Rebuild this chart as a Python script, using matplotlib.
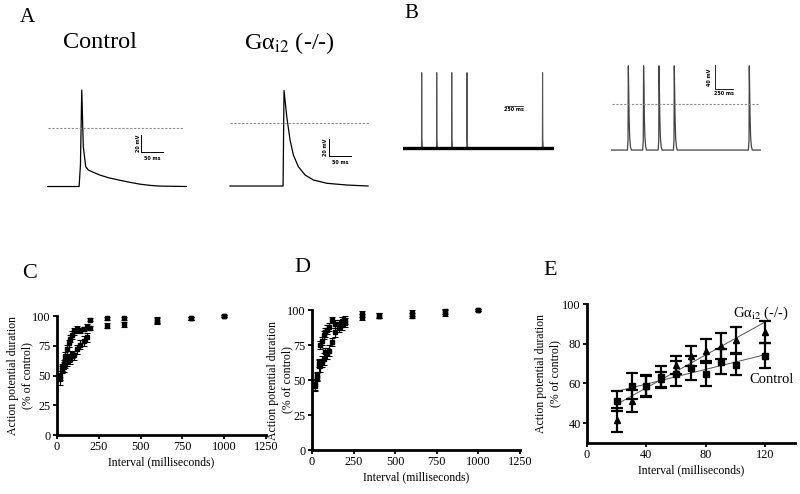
import matplotlib
matplotlib.use("Agg")
import matplotlib.pyplot as plt

plt.rcParams['font.family'] = ['Liberation Serif', 'DejaVu Serif']
plt.rcParams['mathtext.fontset'] = 'stix'

# ---- panel A: single action potentials (ms, mV) ----
ctrl_ap_t = [0, 73, 76, 79, 82.5, 88, 94, 105, 120, 140, 166, 190, 211, 235, 257, 318]
ctrl_ap_v = [-68.8, -68.8, -43.5, 44.7, -22, -45.5, -49.4, -52, -55.3, -58.5, -61.5, -64, -66, -67.5, -68.3, -68.8]
ko_ap_t = [0, 120.5, 122.7, 128.9, 136.4, 143.9, 155.2, 170.5, 189.3, 219.8, 265.2, 313.6]
ko_ap_v = [-76.3, -76.3, 38.8, 7.2, -20.8, -38.9, -53, -63, -69, -73, -75.1, -76.3]

# ---- panel B: spike trains (ms) ----
b1_spikes = [255, 460, 665, 873, 1904]
b1_dt = [-3, 0, 4, 10]
b1_v = [-70, 54, -55, -70]
b2_spikes = [232, 436, 643, 847, 1851]
b2_dt = [-12, -4, 0, 4, 10, 18, 28, 40]
b2_v = [-76, -60, 62, 30, -20, -55, -70, -76]

# ---- panels C and D: APD vs interval ----
interval = [20, 30, 40, 50, 60, 70, 80, 90, 100, 120, 140, 160, 180, 200, 300, 400, 600, 800, 1000]
c_upper = [47, 55, 60, 66, 72, 77, 81, 84, 87, 89, 88, 89, 91, 97, 98, 98, 96, 98, 100]
c_upper_err = [5, 3, 3, 4, 4, 3, 3, 3, 3, 3, 2, 2, 2, 1.5, 1.5, 1, 3, 1, 0.5]
c_lower = [50, 57, 57, 60, 62, 64, 64, 68, 67, 72, 76, 79, 82, 90, 92, 93, 96, 98, 100]
c_lower_err = [4, 3, 4, 4, 4, 3, 4, 3, 4, 4, 4, 4, 4, 2, 2, 2, 2, 1, 0.5]
d_upper = [47, 53, 62, 75, 78, 82, 84, 86, 88, 93, 90, 90, 92, 93, 97, 96, 98, 98, 100]
d_upper_err = [4, 3, 3, 3, 3, 3, 3, 3, 3, 2, 3, 3, 3, 3, 2, 2, 2, 2, 0.5]
d_lower = [46, 52, 60, 60, 63, 65, 70, 69, 71, 77, 84, 87, 89, 91, 95, 96, 96, 99, 100]
d_lower_err = [4, 3, 4, 4, 4, 4, 3, 4, 4, 3, 3, 3, 3, 3, 2, 2, 2, 2, 0.5]

# ---- panel E ----
e_interval = [20, 30, 40, 50, 60, 70, 80, 90, 100, 120]
e_control = [51, 58.7, 58.7, 63.3, 65, 67.8, 65, 71, 69.5, 74]
e_control_err = [5, 6.5, 5.5, 5.5, 6.5, 6, 6.5, 6.5, 5.5, 6.3]
e_ko = [41.5, 51.2, 58.7, 62, 69.5, 73.7, 76.2, 79, 82, 85.7]
e_ko_err = [6, 5.5, 5, 4, 4.5, 5, 6, 6.5, 6.5, 5.5]
fit_x = [20, 120]
fit_control = [56, 74.5]
fit_ko = [49.5, 91]

W, H = 800, 494
fig = plt.figure(figsize=(8, 4.94), dpi=100)


def px_axes(x0, y0, x1, y1):
    return fig.add_axes([x0 / W, 1 - y1 / H, (x1 - x0) / W, (y1 - y0) / H])


def px_text(x, y, s, **kw):
    fig.text(x / W, 1 - y / H, s, ha='center', va='center', **kw)


def spike_train(times, dt, v, t_end):
    t, y = [0], [v[0]]
    for s in times:
        t += [s + d for d in dt]
        y += v
    t.append(t_end)
    y.append(v[-1])
    return t, y


ko_label = 'Gα$_{\\mathrm{i2}}$ (-/-)'
dash = dict(color='#8a8a8a', lw=0.8, ls=(0, (2, 1.5)))
small = dict(fontsize=3.5, fontfamily='DejaVu Sans', fontweight='bold')

# A - control
ax = px_axes(47, 85, 187, 190)
ax.plot(ctrl_ap_t, ctrl_ap_v, color='k', lw=0.9)
ax.plot([2, 309], [0, 0], **dash)
ax.plot([214, 214, 264], [-8, -28, -28], color='k', lw=0.7)
ax.text(207, -18, '20 mV', rotation=90, ha='center', va='center', **small)
ax.text(239, -33, '50 ms', ha='center', va='top', **small)
ax.set_xlim(0, 318.2)
ax.set_ylim(-72.9, 50.6)
ax.axis('off')

# A - knockout
ax = px_axes(229, 85, 370, 190)
ax.plot(ko_ap_t, ko_ap_v, color='k', lw=0.9)
ax.plot([0, 318], [0, 0], **dash)
ax.plot([225, 225, 275], [-20, -40, -40], color='k', lw=0.7)
ax.text(218, -30, '20 mV', rotation=90, ha='center', va='center', **small)
ax.text(250, -45, '50 ms', ha='center', va='top', **small)
ax.set_xlim(-2.3, 318)
ax.set_ylim(-81.1, 45.4)
ax.axis('off')

# B - control train
ax = px_axes(403, 60, 554, 155)
t, v = spike_train(b1_spikes, b1_dt, b1_v, 2050)
ax.plot(t, v, color='#555555', lw=0.8)
ax.plot([0, 2050], [-70, -70], color='k', lw=2.4)
ax.plot([1391, 1641], [0, 0], color='k', lw=0.5)
ax.text(1516, -3, '250 ms', ha='center', va='top', **small)
ax.set_xlim(0, 2060)
ax.set_ylim(-81, 74.8)
ax.axis('off')

# B - knockout train
ax = px_axes(611, 60, 762, 155)
t, v = spike_train(b2_spikes, b2_dt, b2_v, 2000)
ax.plot(t, v, color='#444444', lw=0.9)
ax.plot([20, 1975], [0, 0], **dash)
ax.plot([1387, 1387, 1637], [63.6, 23.6, 23.6], color='k', lw=0.6)
ax.text(1320, 43.6, '40 mV', rotation=90, ha='center', va='center', **small)
ax.text(1512, 20, '250 ms', ha='center', va='top', **small)
ax.set_xlim(0, 2021)
ax.set_ylim(-84.1, 71.6)
ax.axis('off')

# panel letters and titles
px_text(27, 17, 'A', fontsize=15)
px_text(100, 42, 'Control', fontsize=17.5)
px_text(289, 43, ko_label, fontsize=17.5)
px_text(411, 14, 'B', fontsize=15)
px_text(30, 273, 'C', fontsize=16)
px_text(302, 268, 'D', fontsize=16)
px_text(550, 270, 'E', fontsize=16)


def style_axes(ax, label_x):
    for side in ['top', 'right']:
        ax.spines[side].set_visible(False)
    for side in ['left', 'bottom']:
        ax.spines[side].set_linewidth(2.0)
    ax.tick_params(direction='out', length=3, width=1.3, labelsize=8.8, pad=1.5)
    ax.set_xlabel('Interval (milliseconds)', fontsize=8.5, labelpad=2)
    ax.set_ylabel('Action potential duration\n(% of control)', fontsize=8.5)
    ax.yaxis.set_label_coords(label_x, 0.5)


ebar = dict(fmt='s', color='k', ms=2.6, elinewidth=0.8, capsize=2, capthick=0.8, lw=0)

# C
ax = px_axes(57, 316, 266, 435)
ax.errorbar(interval, c_upper, yerr=c_upper_err, **ebar)
ax.errorbar(interval, c_lower, yerr=c_lower_err, **ebar)
ax.set_xlim(0, 1250)
ax.set_ylim(0, 100)
ax.set_xticks([0, 250, 500, 750, 1000, 1250])
ax.set_yticks([0, 25, 50, 75, 100])
style_axes(ax, -0.115)
for art in ax.lines + ax.collections:
    art.set_clip_on(False)

# D
ax = px_axes(312, 310, 520, 450)
ax.errorbar(interval, d_upper, yerr=d_upper_err, **ebar)
ax.errorbar(interval, d_lower, yerr=d_lower_err, **ebar)
ax.set_xlim(0, 1250)
ax.set_ylim(0, 100)
ax.set_xticks([0, 250, 500, 750, 1000, 1250])
ax.set_yticks([0, 25, 50, 75, 100])
style_axes(ax, -0.09)
for art in ax.lines + ax.collections:
    art.set_clip_on(False)

# E
ax = px_axes(587, 304, 795, 443)
ax.plot(fit_x, fit_control, color='#555555', lw=0.7)
ax.plot(fit_x, fit_ko, color='#555555', lw=0.7)
ax.errorbar(e_interval, e_control, yerr=e_control_err, fmt='s', color='k', ms=5,
            elinewidth=1.6, capsize=4, capthick=1.6, lw=0)
ax.errorbar(e_interval, e_ko, yerr=e_ko_err, fmt='^', color='k', ms=5,
            elinewidth=1.6, capsize=4, capthick=1.6, lw=0)
ax.text(117, 95.5, ko_label, fontsize=10.5, ha='center', va='center')
ax.text(124, 62, 'Control', fontsize=10.5, ha='center', va='center')
ax.set_xlim(0, 140)
ax.set_ylim(30, 100)
ax.set_xticks([0, 40, 80, 120])
ax.set_yticks([40, 60, 80, 100])
style_axes(ax, -0.125)
for art in ax.lines + ax.collections:
    art.set_clip_on(False)

fig.savefig('out.png', dpi=100, facecolor='white')
